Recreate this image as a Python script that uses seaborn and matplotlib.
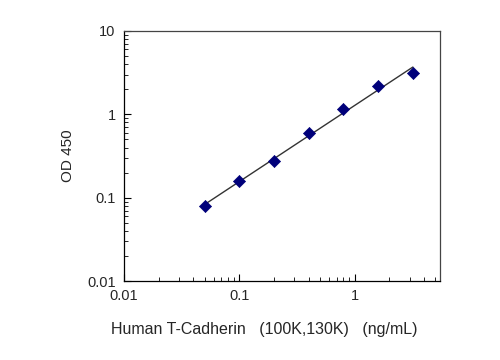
import numpy as np
import pandas as pd
import matplotlib
matplotlib.use("Agg")
import matplotlib.pyplot as plt
import seaborn as sns
from matplotlib.ticker import FixedLocator, FixedFormatter, LogLocator, NullFormatter

conc = [0.05, 0.1, 0.2, 0.4, 0.8, 1.6, 3.2]
od = [0.079, 0.157, 0.277, 0.59, 1.16, 2.19, 3.1]
xticks = [0.01, 0.1, 1]
xticklabels = ["0.01", "0.1", "1"]
yticks = [0.01, 0.1, 1, 10]
yticklabels = ["0.01", "0.1", "1", "10"]

df = pd.DataFrame({"conc": conc, "od": od})
# log-log linear fit (trendline)
b, a = np.polyfit(np.log10(df["conc"]), np.log10(df["od"]), 1)
fit = pd.DataFrame({"conc": [conc[0], conc[-1]]})
fit["od"] = 10 ** (a + b * np.log10(fit["conc"]))

sns.set_style("white")
plt.rcParams["font.family"] = ["Liberation Sans", "DejaVu Sans"]

fig = plt.figure(figsize=(5, 3.6), dpi=100)
ax = fig.add_axes([0.248, 0.219, 0.632, 0.695])
ax.set_xscale("log")
ax.set_yscale("log")
sns.lineplot(data=fit, x="conc", y="od", ax=ax, color="#333333", linewidth=1.0)
sns.scatterplot(data=df, x="conc", y="od", ax=ax, marker="D", s=38,
                color="#00007a", edgecolor="#00007a", linewidth=0.5, zorder=3)
ax.set_xlim(0.01, 5.5)
ax.set_ylim(0.01, 10)

ax.xaxis.set_major_locator(FixedLocator(xticks))
ax.xaxis.set_major_formatter(FixedFormatter(xticklabels))
ax.yaxis.set_major_locator(FixedLocator(yticks))
ax.yaxis.set_major_formatter(FixedFormatter(yticklabels))
ax.xaxis.set_minor_locator(LogLocator(base=10, subs=np.arange(2, 10)))
ax.yaxis.set_minor_locator(LogLocator(base=10, subs=np.arange(2, 10)))
ax.xaxis.set_minor_formatter(NullFormatter())
ax.yaxis.set_minor_formatter(NullFormatter())
ax.tick_params(which="both", direction="in", bottom=True, left=True, top=False, right=False,
               color="black", labelsize=10.5, pad=6)
ax.tick_params(which="major", length=5, width=0.8)
ax.tick_params(which="minor", length=3, width=0.6)
for s in ax.spines.values():
    s.set_color("#444444")
    s.set_linewidth(0.9)
ax.spines["left"].set_color("black")
ax.spines["bottom"].set_color("black")

ax.set_xlabel("Human T-Cadherin   (100K,130K)   (ng/mL)", fontsize=11.5)
ax.xaxis.set_label_coords(0.443, -0.165)
ax.set_ylabel("OD 450", fontsize=11, labelpad=9)

fig.savefig("out.png", dpi=100)
